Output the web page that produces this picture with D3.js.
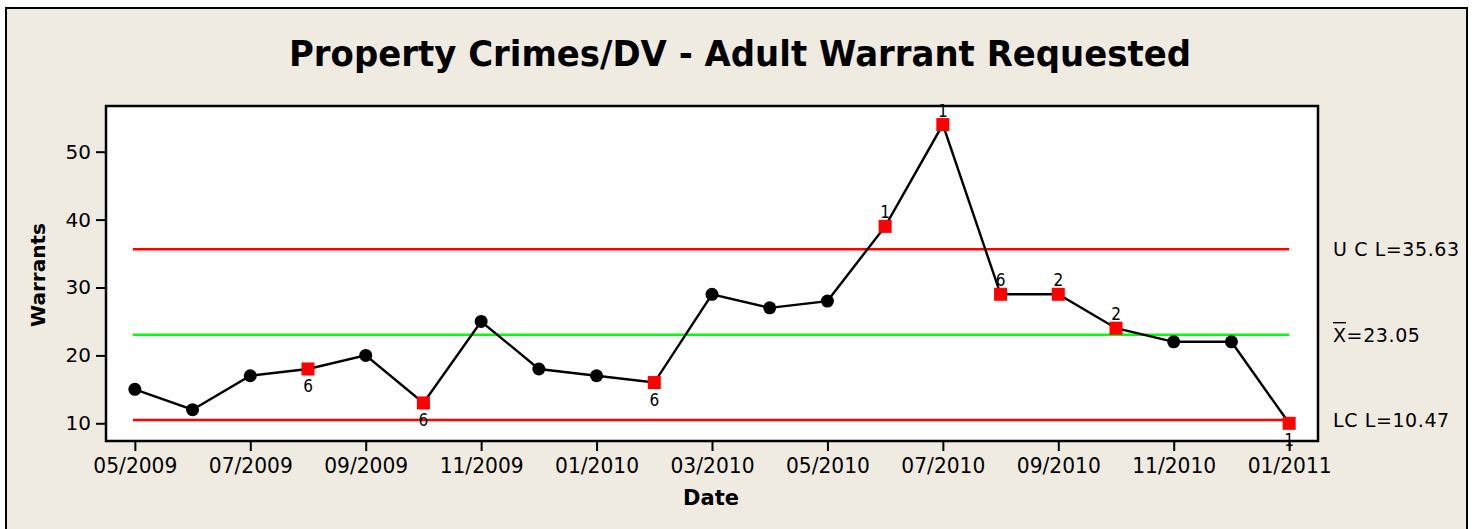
<!DOCTYPE html>
<html><head><meta charset="utf-8">
<script src="https://cdn.jsdelivr.net/npm/d3@7"></script>
<style>body{margin:0;background:#fff}svg{display:block}</style>
</head><body>
<script>
const months = ["05/2009","06/2009","07/2009","08/2009","09/2009","10/2009","11/2009","12/2009","01/2010","02/2010","03/2010","04/2010","05/2010","06/2010","07/2010","08/2010","09/2010","10/2010","11/2010","12/2010","01/2011"];
const warrants = [15,12,17,18,20,13,25,18,17,16,29,27,28,39,54,29,29,24,22,22,10];
const flags = ["","","","6","","6","","","","6","","","","1","1","6","2","2","","","1"];
const flagPos = ["","","","below","","below","","","","below","","","","above","above","above","above","above","","","below"];
const xTickLabels = ["05/2009","07/2009","09/2009","11/2009","01/2010","03/2010","05/2010","07/2010","09/2010","11/2010","01/2011"];
const yTicks = [10,20,30,40,50];
const limits = [{name:"UCL", label:"U C L=35.63", value:35.63, color:"#ff0000"},
                {name:"Mean", label:"X=23.05", value:23.05, color:"#00ff00"},
                {name:"LCL", label:"LC L=10.47", value:10.47, color:"#ff0000"}];

const W=1475,H=529;
const svg=d3.select("body").append("svg").attr("width",W).attr("height",H);
svg.append("rect").attr("x",6).attr("y",8).attr("width",1461).attr("height",H).attr("fill","#efebe1").attr("stroke","#000").attr("stroke-width",2);

const L=106,R=1318,T=106,B=441;
const x=d3.scaleLinear().domain([-0.5,months.length-0.5]).range([L,R]);
const y=d3.scaleLinear().domain([10-(441-423.3)/6.79, 10+(423.3-106)/6.79]).range([B,T]);

svg.append("rect").attr("x",L).attr("y",T).attr("width",R-L).attr("height",B-T).attr("fill","#fff");

// title
svg.append("text").attr("x",740).attr("y",66).attr("text-anchor","middle")
  .attr("font-family","DejaVu Sans, Verdana, sans-serif").attr("font-weight","bold").attr("font-size",36)
  .attr("textLength",902).attr("lengthAdjust","spacingAndGlyphs")
  .text("Property Crimes/DV - Adult Warrant Requested");

// control lines
const g=svg.append("g");
limits.forEach(l=>{
  g.append("line").attr("x1",x(0)-2).attr("x2",x(months.length-1)).attr("y1",y(l.value)).attr("y2",y(l.value))
   .attr("stroke",l.color).attr("stroke-width",2.5);
});

// line
const line=d3.line().x((d,i)=>x(i)).y(d=>y(d));
g.append("path").datum(warrants).attr("d",line).attr("fill","none").attr("stroke","#000").attr("stroke-width",2.4);

warrants.forEach((v,i)=>{
  if(flags[i]){
    g.append("rect").attr("x",x(i)-6.5).attr("y",y(v)-6.5).attr("width",13).attr("height",13).attr("fill","#ff0000");
    const above=flagPos[i]==="above";
    g.append("text").attr("x",x(i)).attr("y",above? y(v)-8 : y(v)+23).attr("text-anchor","middle")
     .attr("font-family","DejaVu Sans Condensed, DejaVu Sans, sans-serif").attr("font-size",17).text(flags[i]);
  } else {
    g.append("circle").attr("cx",x(i)).attr("cy",y(v)).attr("r",6.5).attr("fill","#000");
  }
});

// frame
svg.append("rect").attr("x",L).attr("y",T).attr("width",R-L).attr("height",B-T).attr("fill","none").attr("stroke","#000").attr("stroke-width",2.5);

// y axis
const ya=svg.append("g").attr("transform",`translate(${L},0)`)
  .call(d3.axisLeft(y).tickValues(yTicks).tickSize(10).tickPadding(5).tickFormat(d3.format("d")));
ya.select(".domain").remove();
ya.selectAll("line").attr("stroke","#000").attr("stroke-width",2);
ya.selectAll("text").attr("font-family","DejaVu Sans, Verdana, sans-serif").attr("font-size",20).attr("fill","#000");

// x axis
const xi = xTickLabels.map(t=>months.indexOf(t));
const xa=svg.append("g").attr("transform",`translate(0,${B})`)
  .call(d3.axisBottom(x).tickValues(xi).tickSize(10).tickPadding(6).tickFormat(i=>months[i]));
xa.select(".domain").remove();
xa.selectAll("line").attr("stroke","#000").attr("stroke-width",2);
xa.selectAll("text").attr("font-family","Liberation Sans Narrow, DejaVu Sans Condensed, sans-serif").attr("font-size",22).attr("fill","#000")
  .attr("textLength",84).attr("lengthAdjust","spacingAndGlyphs");

// axis titles
svg.append("text").attr("transform","translate(45,275) rotate(-90)").attr("text-anchor","middle")
  .attr("font-family","DejaVu Sans, Verdana, sans-serif").attr("font-weight","bold").attr("font-size",20).text("Warrants");
svg.append("text").attr("x",711).attr("y",505).attr("text-anchor","middle")
  .attr("font-family","DejaVu Sans, Verdana, sans-serif").attr("font-weight","bold").attr("font-size",21).text("Date");

// limit labels
limits.forEach(l=>{
  const t=svg.append("text").attr("x",1333).attr("y",y(l.value)+7)
   .attr("font-family","DejaVu Sans, sans-serif").attr("font-size",19).attr("letter-spacing",0.6).attr("fill","#000");
  if(l.name==="Mean"){
    t.text(l.label);
    svg.append("line").attr("x1",1333).attr("x2",1346).attr("y1",y(l.value)-12).attr("y2",y(l.value)-12).attr("stroke","#000").attr("stroke-width",1.4);
  } else t.text(l.label);
});
</script>
</body></html>
